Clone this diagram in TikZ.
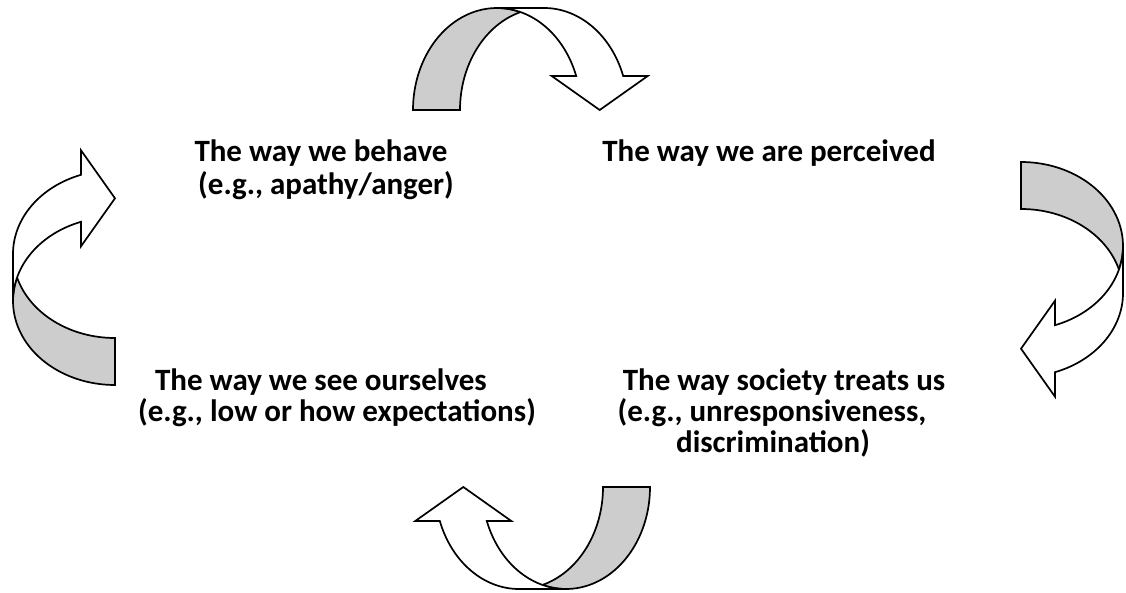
\documentclass[tikz,border=0pt]{standalone}
\usepackage{fontspec}
\setmainfont{Carlito}
\definecolor{arrowgray}{RGB}{205,205,205}
\tikzset{
  lbl/.style={anchor=base,inner sep=0pt,font=\bfseries\fontsize{31}{33}\selectfont},
  backband/.style={fill=arrowgray,draw=black,line width=1.7pt},
  frontband/.style={fill=white,draw=black,line width=1.7pt},
  carrow/.pic={
    \path[backband] (0,\chh) arc[start angle=180,end angle={360-\cbeta},x radius=\cwR,y radius=\chh]
      arc[start angle={180+\cbeta},end angle=180,x radius=\cwR,y radius=\chh] -- cycle;
    \path[frontband] (\cxsix,\chh) -- (\cxfour,\cyone) -- (\cxfive,\cyone)
      arc[start angle={-\calpha},end angle=-90,x radius=\cwR,y radius=\chh]
      -- (\cwR+\cth,0)
      arc[start angle=-90,end angle={-\calpha},x radius=\cwR,y radius=\chh]
      -- (\cxeight,\cyone) -- cycle;
  }
}
\begin{document}
\begin{tikzpicture}[x=1pt,y=-1pt]
\useasboundingbox (0,0) rectangle (1126,593);
% shape parameters
\pgfmathsetmacro{\chh}{102}
\pgfmathsetmacro{\cth}{47}
\pgfmathsetmacro{\caw}{96}
\pgfmathsetmacro{\cah}{34}
\pgfmathsetmacro{\cwR}{84}
\pgfmathsetmacro{\calpha}{asin(\cah/\chh)}
\pgfmathsetmacro{\cbeta}{acos(\cth/(2*\cwR))}
\pgfmathsetmacro{\cdx}{\cwR*cos(\calpha)}
\pgfmathsetmacro{\cyone}{\chh-\cah}
\pgfmathsetmacro{\cxfive}{\cwR+\cdx}
\pgfmathsetmacro{\cxseven}{\cwR+\cth+\cdx}
\pgfmathsetmacro{\cdh}{(\caw-\cth)/2}
\pgfmathsetmacro{\cxfour}{\cxfive-\cdh}
\pgfmathsetmacro{\cxeight}{\cxseven+\cdh}
\pgfmathsetmacro{\cxsix}{(\cxfour+\cxeight)/2}
% curved arrows
\pic at (413,8) {carrow};
\pic[rotate=-90] at (1123,162) {carrow};
\pic[rotate=180] at (650,589) {carrow};
\pic[rotate=90] at (13,385) {carrow};
% labels
\node[lbl] (behave1) at (321,162) {The way we behave};
\node[lbl] (behave2) at (326,195) {(e.g., apathy/anger)};
\node[lbl] (perceived) at (769,162) {The way we are perceived};
\node[lbl] (see1) at (321,390) {The way we see ourselves};
\node[lbl] (see2) at (337,421) {(e.g., low or how expectations)};
\node[lbl] (treat1) at (784,390) {The way society treats us};
\node[lbl] (treat2) at (772,421) {(e.g., unresponsiveness,};
\node[lbl] (treat3) at (773,452) {discrimination)};
\end{tikzpicture}
\end{document}
